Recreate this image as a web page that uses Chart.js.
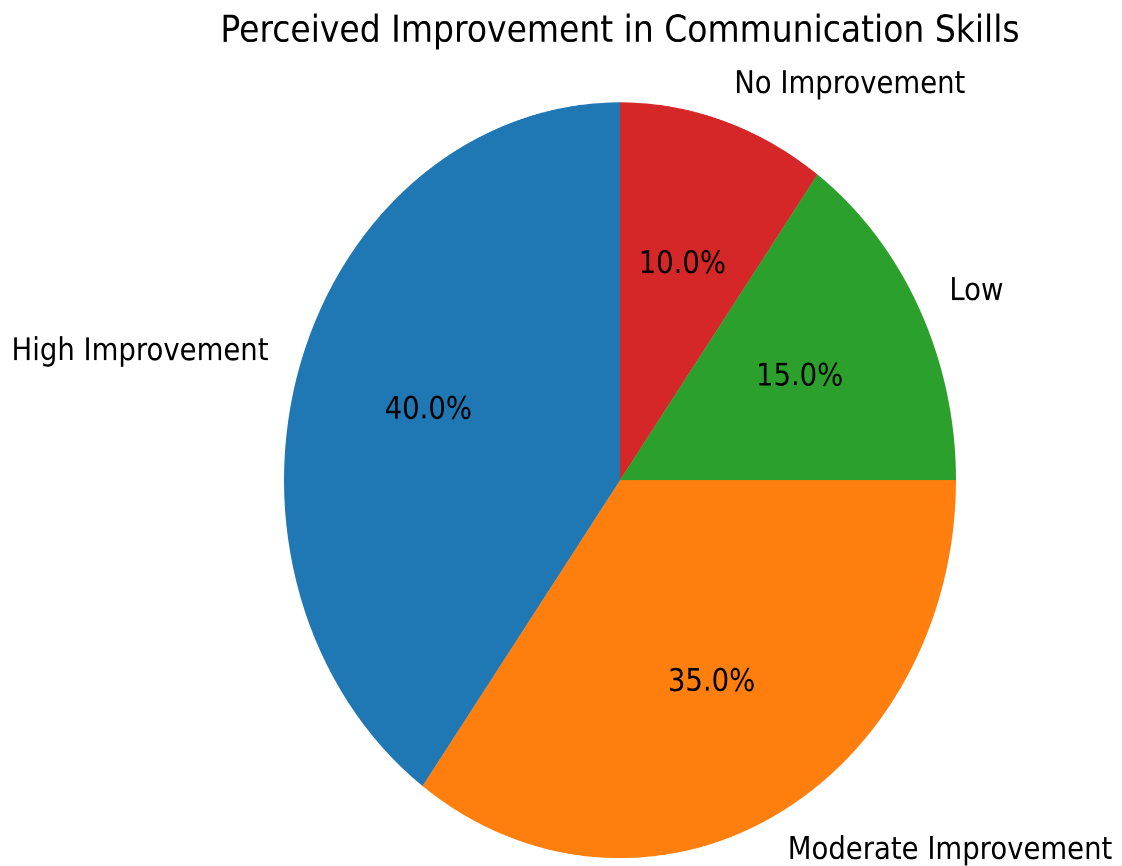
<!DOCTYPE html>
<html>
<head>
<meta charset="utf-8">
<script src="https://cdn.jsdelivr.net/npm/chart.js@4/dist/chart.umd.min.js"></script>
<style>
  html, body { margin: 0; padding: 0; background: #fff; overflow: hidden; }
  body { width: 1122px; height: 866px; }
  #wrap {
    width: 1122px;
    height: 770px;
    transform: scaleY(1.12468);
    transform-origin: 0 0;
  }
</style>
</head>
<body>
<div id="wrap"><canvas id="chart-pie"></canvas></div>
<script>
// Data (matplotlib order, counter-clockwise from 12 o'clock)
const categories = ['High Improvement', 'Moderate Improvement', 'Low', 'No Improvement'];
const shares = [40, 35, 15, 10];
const sliceColors = ['#1f77b4', '#ff7f0e', '#2ca02c', '#d62728'];
const chartTitle = 'Perceived Improvement in Communication Skills';

// Chart.js draws clockwise, so flip the order
const labelsCw = categories.slice().reverse();
const valuesCw = shares.slice().reverse();
const colorsCw = sliceColors.slice().reverse();

const FONT = '"DejaVu Sans", sans-serif';

// draws outer labels, percentages and title the way matplotlib lays them out
const pieText = {
  id: 'pieText',
  afterDatasetsDraw(chart) {
    const ctx = chart.ctx;
    const meta = chart.getDatasetMeta(0);
    const total = valuesCw.reduce((a, b) => a + b, 0);
    ctx.save();
    ctx.fillStyle = '#000';
    ctx.textBaseline = 'middle';
    meta.data.forEach((arc, i) => {
      const p = arc.getProps(['x', 'y', 'startAngle', 'endAngle', 'outerRadius'], true);
      const mid = (p.startAngle + p.endAngle) / 2;
      const cx = Math.cos(mid), cy = Math.sin(mid);

      // category label at 1.1 r
      ctx.font = '27.5px ' + FONT;
      ctx.textAlign = cx > 0 ? 'left' : 'right';
      ctx.fillText(labelsCw[i], p.x + cx * p.outerRadius * 1.1, p.y + cy * p.outerRadius * 1.1);

      // percentage at 0.6 r
      ctx.textAlign = 'center';
      const pct = (valuesCw[i] / total * 100).toFixed(1) + '%';
      ctx.fillText(pct, p.x + cx * p.outerRadius * 0.6, p.y + cy * p.outerRadius * 0.6);
    });

    ctx.font = '33px ' + FONT;
    ctx.textAlign = 'center';
    ctx.fillText(chartTitle, 620, 28.5);
    ctx.restore();
  }
};

new Chart(document.getElementById('chart-pie'), {
  type: 'pie',
  data: {
    labels: labelsCw,
    datasets: [{
      data: valuesCw,
      backgroundColor: colorsCw,
      borderWidth: 0
    }]
  },
  options: {
    responsive: true,
    maintainAspectRatio: false,
    animation: false,
    devicePixelRatio: 2,
    rotation: 0,
    layout: { padding: { left: 284, right: 166, top: 91, bottom: 7 } },
    plugins: {
      legend: { display: false },
      tooltip: { enabled: false },
      title: { display: false }
    }
  },
  plugins: [pieText]
});
</script>
</body>
</html>
